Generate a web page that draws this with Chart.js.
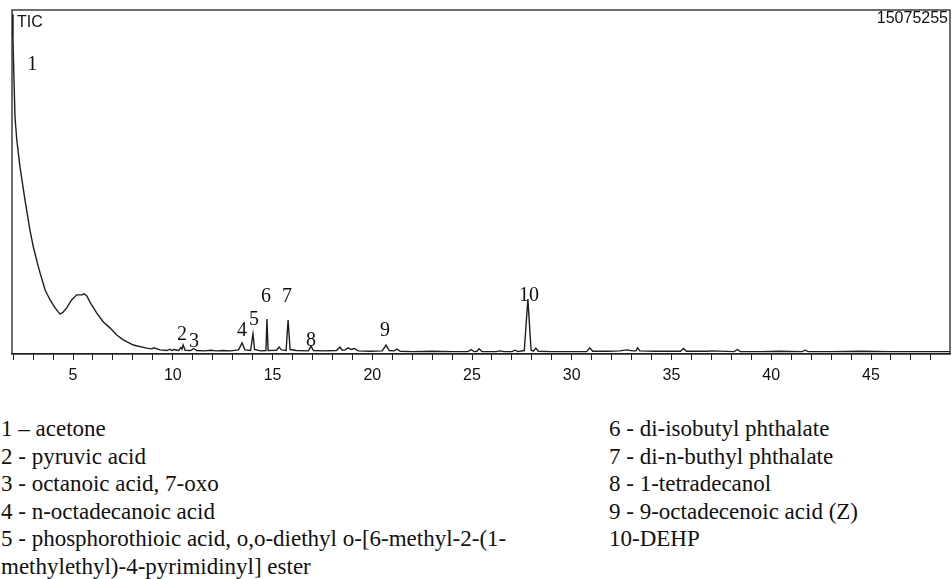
<!DOCTYPE html>
<html>
<head>
<meta charset="utf-8">
<script src="https://cdn.jsdelivr.net/npm/chart.js@4"></script>
<style>
  body { margin: 0; background: #fff; width: 952px; height: 579px; overflow: hidden; position: relative; }
  #wrap { position: absolute; left: 0; top: 0; width: 952px; height: 395px; }
  .compounds { position: absolute; top: 415px; font: 23px "Liberation Serif", serif; line-height: 27.6px; color: #111; white-space: pre-line; }
  #left { left: 1px; }
  #right { left: 609px; }
</style>
</head>
<body>
<div id="wrap"><canvas id="myChart" width="952" height="395"></canvas></div>
<div id="left" class="compounds"></div>
<div id="right" class="compounds"></div>
<script>
// retention time (min) and TIC abundance (% of full scale)
const retentionTime = [
  1.94, 1.99, 2.04, 2.09, 2.18, 2.34, 2.59, 2.84, 3.01, 3.20,
  3.35, 3.60, 3.85, 4.10, 4.35, 4.51, 4.68, 4.93, 5.18, 5.44,
  5.55, 5.69, 5.85, 6.19, 6.52, 6.85, 7.19, 7.52, 8.02, 8.69,
  8.95, 9.05, 9.36, 9.70, 9.85, 9.95, 10.05, 10.30, 10.40, 10.46,
  10.52, 10.62, 10.90, 11.05, 11.20, 11.60, 11.90, 12.20, 12.50, 12.90,
  13.30, 13.47, 13.62, 13.90, 14.02, 14.10, 14.40, 14.67, 14.72, 14.78,
  15.20, 15.33, 15.45, 15.68, 15.78, 15.88, 16.20, 16.80, 16.93, 17.05,
  17.60, 18.20, 18.38, 18.50, 18.65, 18.78, 18.95, 19.10, 19.30, 19.90,
  20.50, 20.69, 20.85, 21.10, 21.24, 21.40, 22.00, 23.00, 24.00, 24.80,
  24.95, 25.10, 25.25, 25.35, 25.50, 26.20, 26.40, 26.60, 27.00, 27.15,
  27.30, 27.62, 27.80, 27.96, 28.08, 28.20, 28.32, 29.00, 30.00, 30.75,
  30.90, 31.05, 31.80, 32.40, 32.77, 33.05, 33.22, 33.30, 33.42, 34.20,
  35.45, 35.60, 35.75, 36.80, 37.00, 38.15, 38.30, 38.45, 39.50, 40.40,
  41.55, 41.70, 41.85, 43.00, 44.50, 46.00, 47.50, 48.96
];
const ticAbundance = [
  98.8, 91.3, 79.7, 68.9, 62.2, 54.4, 44.8, 36.0, 31.1, 26.7,
  23.5, 18.6, 15.7, 13.4, 11.6, 12.2, 13.4, 15.7, 17.2, 17.2,
  17.5, 16.9, 15.1, 11.9, 9.3, 7.6, 5.5, 4.1, 2.6, 1.7,
  1.5, 1.8, 1.2, 1.0, 1.4, 1.0, 1.3, 1.0, 1.9, 1.4,
  2.6, 1.1, 1.0, 1.6, 1.0, 0.9, 1.1, 0.9, 1.0, 0.9,
  1.2, 3.2, 1.2, 1.0, 5.8, 1.3, 0.9, 1.0, 10.2, 1.0,
  1.1, 2.0, 1.2, 1.0, 9.9, 1.3, 1.0, 0.9, 2.3, 1.0,
  0.9, 1.0, 2.0, 1.1, 1.2, 1.8, 1.3, 1.6, 0.9, 0.8,
  0.9, 2.6, 1.0, 0.9, 1.4, 0.8, 0.7, 0.8, 0.7, 0.7,
  1.3, 0.7, 0.8, 1.5, 0.7, 0.7, 0.9, 0.7, 0.7, 1.1,
  0.7, 1.0, 16.0, 1.1, 0.8, 1.7, 0.8, 0.7, 0.7, 0.7,
  1.8, 0.8, 0.8, 0.9, 1.2, 0.9, 0.9, 1.8, 0.9, 0.8,
  0.8, 1.6, 0.8, 0.8, 0.9, 0.7, 1.3, 0.7, 0.7, 0.8,
  0.7, 1.1, 0.7, 0.7, 0.8, 0.7, 0.7, 0.7
];
const xTickLabels = [5, 10, 15, 20, 25, 30, 35, 40, 45];
const fullScale = '15075255';

// peak numbers and where their labels sit (time, abundance %)
const peakNumbers = ['1', '2', '3', '4', '5', '6', '7', '8', '9', '10'];
const peakLabelTime = [2.95, 10.46, 11.06, 13.47, 14.07, 14.67, 15.73, 16.93, 20.64, 27.86];
const peakLabelLevel = [82.6, 4.1, 2.0, 5.2, 8.4, 15.1, 15.1, 2.3, 5.2, 15.4];

const compoundsLeft = [
  '1 \u2013 acetone',
  '2 - pyruvic acid',
  '3 - octanoic acid, 7-oxo',
  '4 - n-octadecanoic acid',
  '5 - phosphorothioic acid, o,o-diethyl o-[6-methyl-2-(1-\nmethylethyl)-4-pyrimidinyl] ester'
];
const compoundsRight = [
  '6 - di-isobutyl phthalate',
  '7 - di-n-buthyl phthalate',
  '8 - 1-tetradecanol',
  '9 - 9-octadecenoic acid (Z)',
  '10-DEHP'
];

const annotate = {
  id: 'annotate',
  afterDatasetsDraw(chart) {
    const { ctx, chartArea: a, scales: { x, y } } = chart;
    ctx.save();
    ctx.strokeStyle = '#222';
    ctx.lineWidth = 1.3;
    ctx.strokeRect(a.left, a.top, a.right - a.left, a.bottom - a.top);
    ctx.fillStyle = '#111';
    ctx.font = '16px "Liberation Sans"';
    ctx.textAlign = 'left';
    ctx.fillText('TIC', a.left + 5, a.top + 17);
    ctx.textAlign = 'right';
    ctx.fillText(fullScale, a.right - 2, a.top + 13);
    ctx.font = '20px "Liberation Serif"';
    ctx.textAlign = 'center';
    peakNumbers.forEach((n, i) => {
      ctx.fillText(n, x.getPixelForValue(peakLabelTime[i]), y.getPixelForValue(peakLabelLevel[i]));
    });
    ctx.restore();
  }
};

function createChart() {
  const ctx = document.getElementById('myChart').getContext('2d');
  new Chart(ctx, {
    type: 'line',
    data: {
      datasets: [{
        data: retentionTime.map((t, i) => ({ x: t, y: ticAbundance[i] })),
        borderColor: '#1e1e1e',
        borderWidth: 1.4,
        pointRadius: 0,
        tension: 0,
        fill: false
      }]
    },
    options: {
      responsive: false,
      animation: false,
      devicePixelRatio: 1,
      layout: { padding: { left: 12, top: 10, right: 2, bottom: 0 } },
      plugins: { legend: { display: false }, tooltip: { enabled: false } },
      scales: {
        x: {
          type: 'linear',
          min: 1.94,
          max: 48.96,
          afterFit(scale) { scale.height = 41; },
          border: { display: true, color: '#222', width: 1.3 },
          grid: { drawOnChartArea: false, drawTicks: true, tickLength: 6, color: '#222' },
          ticks: {
            stepSize: 1,
            includeBounds: false,
            autoSkip: false,
            maxRotation: 0,
            padding: 6,
            color: '#111',
            font: { family: 'Liberation Sans', size: 16 },
            callback: v => xTickLabels.includes(v) ? String(v) : ''
          }
        },
        y: { display: false, min: 0, max: 100 }
      }
    },
    plugins: [annotate]
  });
}

document.getElementById('left').textContent = compoundsLeft.join('\n');
document.getElementById('right').textContent = compoundsRight.join('\n');

document.addEventListener('DOMContentLoaded', function () {
  createChart();
});
</script>
</body>
</html>
